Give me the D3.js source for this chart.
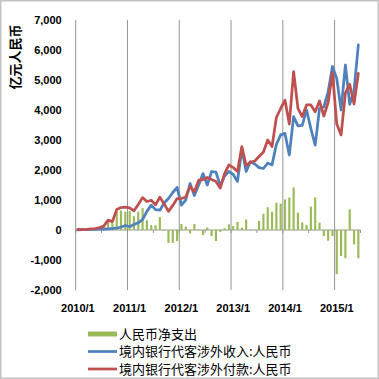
<!DOCTYPE html>
<html>
<head>
<meta charset="utf-8">
<script src="https://cdn.jsdelivr.net/npm/d3@7"></script>
<style>
  body { margin: 0; background: #fff; }
  svg { display: block; }
  .axis text { font-family: "Liberation Sans", Arial, sans-serif; font-weight: bold; font-size: 11px; fill: #000; }
  .axis-title { font-family: "Noto Sans CJK SC", sans-serif; font-weight: bold; font-size: 13px; fill: #000; }
  .legend text { font-family: "Noto Sans CJK SC", sans-serif; font-size: 13px; fill: #000; }
</style>
</head>
<body>
<svg id="chart"></svg>
<script>
// 2010/1 .. 2015/6, monthly
const years = [2010, 2011, 2012, 2013, 2014, 2015];
const months = years.flatMap(y => d3.range(1, 13).map(m => `${y}/${m}`)).slice(0, 66);
const xTickLabels = ['2010/1', '2011/1', '2012/1', '2013/1', '2014/1', '2015/1'];
const yTicks = [-2000, -1000, 0, 1000, 2000, 3000, 4000, 5000, 6000, 7000];

// 境内银行代客涉外收入:人民币 (亿元)
const incomeRmb = [
  0, 10, 10, 20, 20, 30, 30, 40, 50, 60, 100, 150,
  110, 180, 240, 350, 620, 830, 680, 660, 900, 1050, 1250, 1420,
  830, 1000, 1550, 1150, 1500, 1880, 1500, 1950, 1930, 1480, 1800, 1950,
  1850, 1620, 2700, 1950, 2280, 2200, 2080, 2050, 2230, 2170, 2850, 3170,
  3220, 2500, 3780, 3470, 3490, 4000, 3380, 2830, 4050, 4100, 4600, 5450,
  5050, 4000, 5500, 4190, 4650, 6170
];

// 境内银行代客涉外付款:人民币 (亿元)
const paymentRmb = [
  20, 10, 20, 40, 50, 80, 130, 330, 280, 680, 750, 760,
  740, 640, 850, 1080, 950, 990, 840, 1090, 870, 620, 820, 1050,
  1050, 1100, 1450, 1280, 1660, 1680, 1750, 1680, 1620, 1400, 1880, 2170,
  2080, 1950, 2780, 2150, 2260, 2300, 2450, 2600, 3000, 2780, 3750, 4050,
  4330, 3530, 5280, 4055, 3780, 4170, 4170, 3940, 4300, 3800, 4250, 5250,
  3530, 3170, 4560, 4860, 4200, 5220
];

// 人民币净支出 (亿元)
const netOutflow = [
  10, 0, 10, 20, 30, 50, 100, 290, 230, 620, 650, 610,
  630, 460, 610, 730, 330, 160, 160, 430, -30, -430, -430, -370,
  200, 110, -110, 200, 20, -170, 80, -200, -370, -60, 60, 190,
  130, 270, 80, 350, -20, 20, 300, 540, 760, 610, 910, 880,
  1020, 1080, 1420, 580, 255, 170, 780, 1090, 245, -200, -355, -200,
  -1470, -870, -940, 690, -480, -940
];

const legendItems = [
  { label: '人民币净支出', color: '#9BBB59', type: 'bar' },
  { label: '境内银行代客涉外收入:人民币', color: '#4F81BD', type: 'line' },
  { label: '境内银行代客涉外付款:人民币', color: '#C0504D', type: 'line' }
];

const config = {
  containerWidth: 379,
  containerHeight: 379,
  margin: { top: 20, right: 18.5, bottom: 89, left: 75.7 }
};

const width = config.containerWidth - config.margin.left - config.margin.right;
const height = config.containerHeight - config.margin.top - config.margin.bottom;

const svg = d3.select('#chart')
  .attr('width', config.containerWidth)
  .attr('height', config.containerHeight);

// outer frame
svg.append('rect')
  .attr('x', 0.75).attr('y', 0.75)
  .attr('width', config.containerWidth - 1.5)
  .attr('height', config.containerHeight - 1.5)
  .attr('fill', '#fff')
  .attr('stroke', '#c4c4c4')
  .attr('stroke-width', 1.5);

const chart = svg.append('g')
  .attr('transform', `translate(${config.margin.left},${config.margin.top})`);

const xScale = d3.scaleBand().domain(months).range([0, width]).padding(0);
const yScale = d3.scaleLinear().domain([-2000, 7000]).range([height, 0]);
const bw = xScale.bandwidth();
const xCenter = m => xScale(m) + bw / 2;

const fmt = d3.formatLocale({ decimal: '.', thousands: ',', grouping: [3], currency: ['', ''], minus: '-' }).format(',');

// vertical gridlines at year boundaries
chart.selectAll('.grid')
  .data(xTickLabels)
  .join('line')
  .attr('class', 'grid')
  .attr('x1', d => xScale(d)).attr('x2', d => xScale(d))
  .attr('y1', 0).attr('y2', height)
  .attr('stroke', '#969696')
  .attr('stroke-width', 1);

// category axis on the zero line
const y0 = yScale(0);
chart.append('line')
  .attr('x1', 0).attr('x2', width)
  .attr('y1', y0).attr('y2', y0)
  .attr('stroke', '#969696');

const tickMonths = months.filter((m, i) => i % 6 === 0);
chart.selectAll('.minor-tick')
  .data(tickMonths.map(xScale).concat([width]))
  .join('line')
  .attr('class', 'minor-tick')
  .attr('x1', d => d).attr('x2', d => d)
  .attr('y1', y0).attr('y2', y0 + 3)
  .attr('stroke', '#969696');

// bars
chart.selectAll('.bar')
  .data(netOutflow)
  .join('rect')
  .attr('class', 'bar')
  .attr('x', (d, i) => xScale(months[i]) + bw * 0.25)
  .attr('width', bw * 0.5)
  .attr('y', d => yScale(Math.max(0, d)))
  .attr('height', d => Math.abs(yScale(d) - y0))
  .attr('fill', '#9BBB59');

// lines
const line = d3.line()
  .x((d, i) => xCenter(months[i]))
  .y(d => yScale(d));

[[incomeRmb, '#4F81BD'], [paymentRmb, '#C0504D']].forEach(([series, color]) => {
  chart.append('path')
    .datum(series)
    .attr('fill', 'none')
    .attr('stroke', color)
    .attr('stroke-width', 2.75)
    .attr('stroke-linejoin', 'round')
    .attr('stroke-linecap', 'round')
    .attr('d', line);
});

// axes
const yAxisG = chart.append('g')
  .attr('class', 'axis y-axis')
  .call(d3.axisLeft(yScale).tickValues(yTicks).tickFormat(fmt).tickSize(0).tickPadding(14));
yAxisG.select('.domain').remove();

const xAxisG = chart.append('g')
  .attr('class', 'axis x-axis')
  .attr('transform', `translate(0,${height})`)
  .call(d3.axisBottom(xScale).tickValues(xTickLabels).tickSize(0).tickPadding(14));
xAxisG.select('.domain').remove();

svg.append('text')
  .attr('class', 'axis-title')
  .attr('transform', 'translate(20,57) rotate(-90)')
  .attr('text-anchor', 'middle')
  .text('亿元人民币');

// legend
const legend = svg.append('g')
  .attr('class', 'legend')
  .attr('transform', 'translate(88,334)');

const rows = legend.selectAll('g')
  .data(legendItems)
  .join('g')
  .attr('transform', (d, i) => `translate(0,${i * 17.5})`);

rows.filter(d => d.type === 'bar').append('rect')
  .attr('x', 0).attr('y', -2.5)
  .attr('width', 29).attr('height', 5)
  .attr('fill', d => d.color);

rows.filter(d => d.type === 'line').append('line')
  .attr('x1', 0).attr('x2', 29)
  .attr('y1', 0).attr('y2', 0)
  .attr('stroke', d => d.color)
  .attr('stroke-width', 2.75);

rows.append('text')
  .attr('x', 31)
  .attr('dy', '0.36em')
  .text(d => d.label);
</script>
</body>
</html>
